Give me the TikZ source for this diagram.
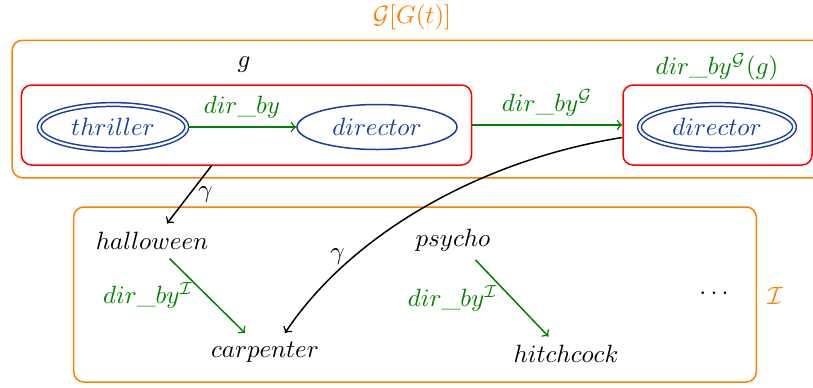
\documentclass[tikz,border=0pt]{standalone}
\usetikzlibrary{shapes.geometric}
\definecolor{ecol}{RGB}{25,60,160}
\definecolor{gcol}{RGB}{0,128,0}
\begin{document}
\begin{tikzpicture}[x=0.4pt,y=-0.4pt,
  concept/.style={draw=ecol,ellipse,text=ecol,semithick,minimum height=18pt,inner sep=0pt},
  dbl/.style={double,double distance=0.9pt},
  rbox/.style={draw=red,semithick,rounded corners=4pt,rectangle,minimum height=32pt},
  obox/.style={draw=orange,semithick,rounded corners=4pt,rectangle},
  garr/.style={->,gcol,semithick},
  karr/.style={->,black,semithick}]
\useasboundingbox (0,0) rectangle (813,387);
% outer boxes
\node[obox,minimum width=331pt,minimum height=55pt] (gt) at (426,109) {};
\node[orange] (gtl) at (412,17) {$\mathcal{G}[G(t)]$};
\node[obox,minimum width=273pt,minimum height=70pt] (inst) at (415,294.5) {};
\node[orange] (instl) at (775,296) {$\mathcal{I}$};
% subgraph g and its image
\node[rbox,minimum width=180pt] (box1) at (246.5,125) {};
\node[rbox,minimum width=75.6pt] (box2) at (717.5,125) {};
\node (gl) at (244,65) {$g$};
\node (dgl) at (717,67) {\color{gcol}$dir\_by^{\mathcal{G}}$$(g)$};
\node[concept,dbl,minimum width=59pt] (thr) at (113,127) {$thriller$};
\node[concept,minimum width=64pt] (dir) at (377,127) {$director$};
\node[concept,dbl,minimum width=62pt] (dir2) at (717,127) {$director$};
% instances
\node (hall) at (152,241) {$halloween$};
\node (psy) at (453,240) {$psycho$};
\node (carp) at (265,352) {$carpenter$};
\node (hitch) at (566,354) {$hitchcock$};
\node (dots) at (714,294) {$\cdots$};
% edges
\draw[garr] (thr) -- node[above] {$dir\_by$} (dir);
\draw[garr] (box1) -- node[above] {$dir\_by^{\mathcal{G}}$} (box2);
\draw[garr] ([xshift=7pt]hall.south) -- node[midway,left=2pt] {$dir\_by^{\mathcal{I}}$} ([xshift=-8pt]carp.north);
\draw[garr] ([xshift=9pt]psy.south) -- node[midway,left=2pt] {$dir\_by^{\mathcal{I}}$} ([xshift=-7pt]hitch.north);
\draw[karr] ([xshift=-14pt]box1.south) -- node[midway,right] {$\gamma$} ([xshift=6pt]hall.north);
\draw[karr] ([yshift=-5pt]box2.west) .. controls (480,160) and (350,235) .. node[pos=0.72,left] {$\gamma$} ([xshift=8pt]carp.north);
\end{tikzpicture}
\end{document}
